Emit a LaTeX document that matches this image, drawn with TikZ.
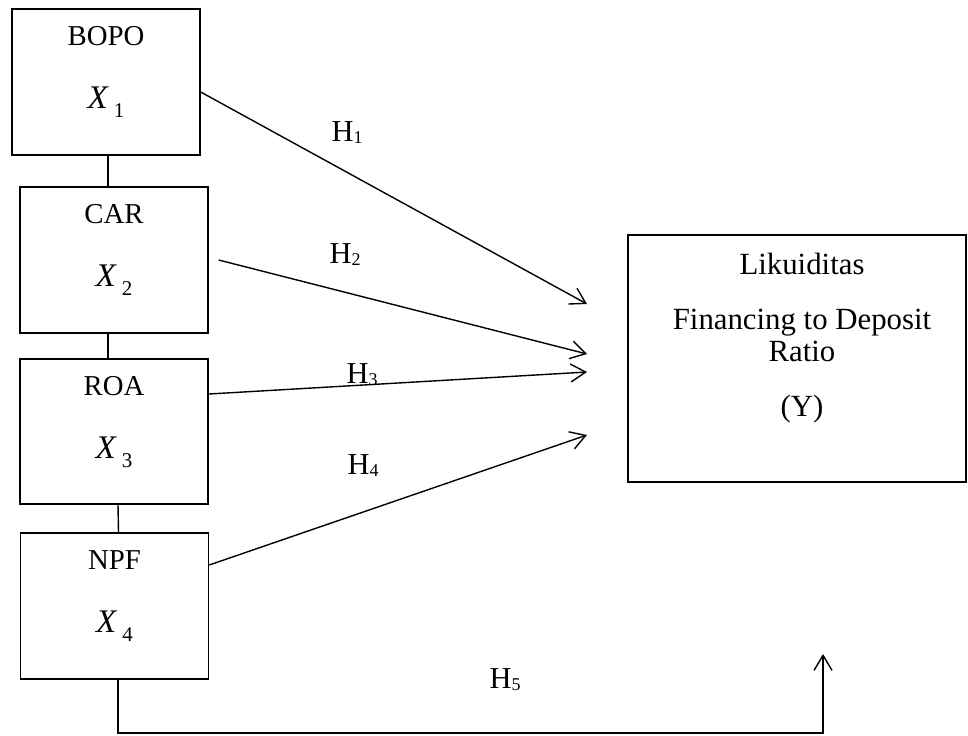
\documentclass[tikz,border=0pt]{standalone}
\usepackage{fontspec}
\setmainfont{Liberation Serif}
\usepackage{tikz}
\usetikzlibrary{arrows.meta,positioning}

\newcommand{\xvar}[1]{{\fontsize{16.5}{18}\selectfont\textit{X}}\hspace{2.5pt}\raisebox{-4.5pt}{\fontsize{10.5}{12}\selectfont #1}}
\newcommand{\hyp}[1]{H\raisebox{-1pt}{\fontsize{9}{10}\selectfont #1}}

\begin{document}
\begin{tikzpicture}[
    x=0.5pt, y=-0.5pt,
    line width=0.7pt,
    varbox/.style={draw, minimum width=94pt, minimum height=73pt, inner sep=0pt},
    ybox/.style={draw, minimum width=169pt, minimum height=123.5pt, inner sep=0pt},
    ttl/.style={anchor=base, font=\fontsize{14.4}{16}\selectfont, inner sep=0pt},
    hlbl/.style={anchor=base west, font=\fontsize{15.2}{17}\selectfont, inner sep=0pt},
    arr/.style={-{Straight Barb[length=7.5pt, width=9pt]}}
]
    \useasboundingbox (0,0) rectangle (968,735);

    % Independent variables
    \node[varbox] (bopo) at (106,82) {};
    \node[varbox] (car) at (114,260) {};
    \node[varbox, minimum height=72.5pt] (roa) at (114,431.5) {};
    \node[varbox] (npf) at (114.5,606) {};

    \node[ttl] (bopo-n) at ([yshift=-18.75pt]bopo.north) {BOPO};
    \node[ttl] (bopo-x) at ([yshift=-50pt]bopo.north) {\xvar{1}};
    \node[ttl] (car-n) at ([yshift=-18.75pt]car.north) {CAR};
    \node[ttl] (car-x) at ([yshift=-50pt]car.north) {\xvar{2}};
    \node[ttl] (roa-n) at ([yshift=-18.75pt]roa.north) {ROA};
    \node[ttl] (roa-x) at ([yshift=-50pt]roa.north) {\xvar{3}};
    \node[ttl] (npf-n) at ([yshift=-18.75pt]npf.north) {NPF};
    \node[ttl] (npf-x) at ([yshift=-50pt]npf.north) {\xvar{4}};

    % Links between the boxes
    \draw ([xshift=1pt]bopo.south) -- ([xshift=-3pt]car.north);
    \draw ([xshift=-3pt]car.south) -- ([xshift=-3pt]roa.north);
    \draw ([xshift=2pt]roa.south) -- ([xshift=2pt]npf.north);

    % Dependent variable
    \node[ybox] (fdr) at (797,358.5) {};
    \node[align=center, font=\fontsize{15.4}{16}\selectfont, inner sep=0pt] (fdr-t) at (802,338.5)
        {Likuiditas\\[11.5pt]Financing to Deposit\\Ratio\\[11.5pt](Y)};

    % Arrow ends
    \coordinate (t1) at (587,304);
    \coordinate (t2) at (587,354);
    \coordinate (t3) at (587,372);
    \coordinate (t4) at (587,435);
    \coordinate (corner) at (823,733);
    \coordinate (t5) at (823,654);

    % Hypotheses
    \draw[arr] ([yshift=-5pt]bopo.east) -- (t1);
    \draw[arr] ([xshift=5pt]car.east) -- (t2);
    \draw[arr] ([yshift=18.75pt]roa.east) -- (t3);
    \draw[arr] ([yshift=20.5pt]npf.east) -- (t4);
    \draw[arr] ([xshift=1.75pt]npf.south) |- (corner) -- (t5);

    \node[hlbl] (h1) at (331,141) {\hyp{1}};
    \node[hlbl] (h2) at (329,263) {\hyp{2}};
    \node[hlbl] (h3) at (346,383) {\hyp{3}};
    \node[hlbl] (h4) at (347,474) {\hyp{4}};
    \node[hlbl] (h5) at (489,688) {\hyp{5}};
\end{tikzpicture}
\end{document}
